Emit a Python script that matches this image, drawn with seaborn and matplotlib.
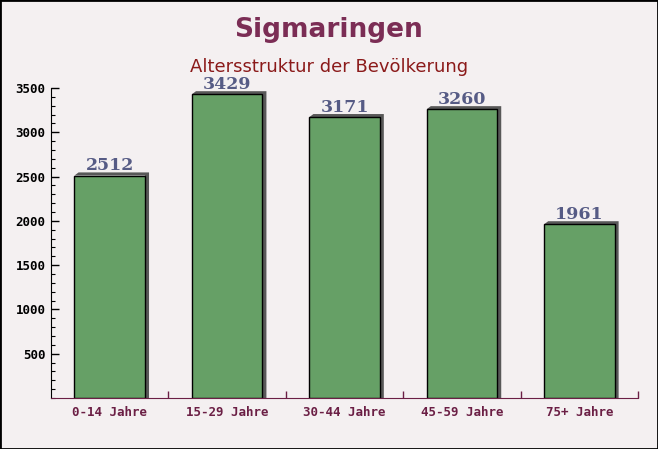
import numpy as np
import pandas as pd
import matplotlib
matplotlib.use("Agg")
import matplotlib.pyplot as plt
import matplotlib.ticker as ticker
import seaborn as sns

## data ##
categories = ["0-14 Jahre", "15-29 Jahre", "30-44 Jahre", "45-59 Jahre", "75+ Jahre"]
values = [2512, 3429, 3171, 3260, 1961]

df = pd.DataFrame({"Gruppe": categories, "Anzahl": values})

sns.set_style("white")
plt.rcParams["font.family"] = ["DejaVu Sans"]

fig = plt.figure(figsize=(6.58, 4.49), dpi=100)
fig.patch.set_facecolor("#f4f0f1")
ax = fig.add_axes([51 / 658, 1 - 398 / 449, 587 / 658, 310 / 449])
ax.set_facecolor("none")

# shadow bars (3d look), drawn with offset
bar_w = 0.6
xs = np.arange(len(categories))
dx, dy = 0.035, 35
for x, v in zip(xs, values):
    ax.add_patch(plt.Polygon(
        [(x - bar_w / 2, v), (x - bar_w / 2 + dx, v + dy), (x + bar_w / 2 + dx, v + dy),
         (x + bar_w / 2 + dx, 0), (x + bar_w / 2, 0), (x + bar_w / 2, v)],
        closed=True, facecolor="#585858", edgecolor="none", zorder=1))

sns.barplot(data=df, x="Gruppe", y="Anzahl", ax=ax, color="#66a066", width=bar_w,
            saturation=1, edgecolor="black", linewidth=1, zorder=2)

for x, v in zip(xs, values):
    ax.text(x, v + 60, str(v), ha="center", va="baseline", fontsize=12.5, fontweight="bold",
            family="DejaVu Serif", color="#565b85")

ax.set_xlim(-0.5, len(categories) - 0.5)
ax.set_ylim(0, 3500)
ax.set_xlabel("")
ax.set_ylabel("")

ax.yaxis.set_minor_locator(ticker.MultipleLocator(100))
ax.set_yticks([500, 1000, 1500, 2000, 2500, 3000, 3500])
ax.tick_params(axis="y", which="both", left=True, color="black")
ax.tick_params(axis="y", which="major", length=6, width=1, direction="in", labelsize=9,
               labelcolor="black", pad=4)
ax.tick_params(axis="y", which="minor", length=3, width=0.8, direction="in")
for lab in ax.get_yticklabels():
    lab.set_family("DejaVu Sans Mono")
    lab.set_fontweight("bold")

ax.set_xticks(xs)
ax.set_xticklabels(categories)
ax.xaxis.set_minor_locator(ticker.FixedLocator(xs + 0.5))
ax.tick_params(axis="x", which="both", bottom=True)
ax.tick_params(axis="x", which="major", length=0, labelsize=9, labelcolor="#6b1f45", pad=6)
ax.tick_params(axis="x", which="minor", length=5, width=1, direction="in", color="#6b1f45")
for lab in ax.get_xticklabels():
    lab.set_family("DejaVu Sans Mono")
    lab.set_fontweight("bold")

for s in ["top", "right"]:
    ax.spines[s].set_visible(False)
ax.spines["left"].set_color("black")
ax.spines["bottom"].set_color("#6b1f45")

fig.text(0.5, 1 - 30 / 449, "Sigmaringen", ha="center", va="center", fontsize=19,
         fontweight="bold", color="#7b2d55")
fig.text(0.5, 1 - 67 / 449, "Altersstruktur der Bevölkerung", ha="center", va="center",
         fontsize=13, color="#8b1a1a")

fig.add_artist(plt.Rectangle((0, 0), 1, 1, transform=fig.transFigure, fill=False,
                             edgecolor="black", linewidth=2))

plt.savefig("out.png", dpi=100)
